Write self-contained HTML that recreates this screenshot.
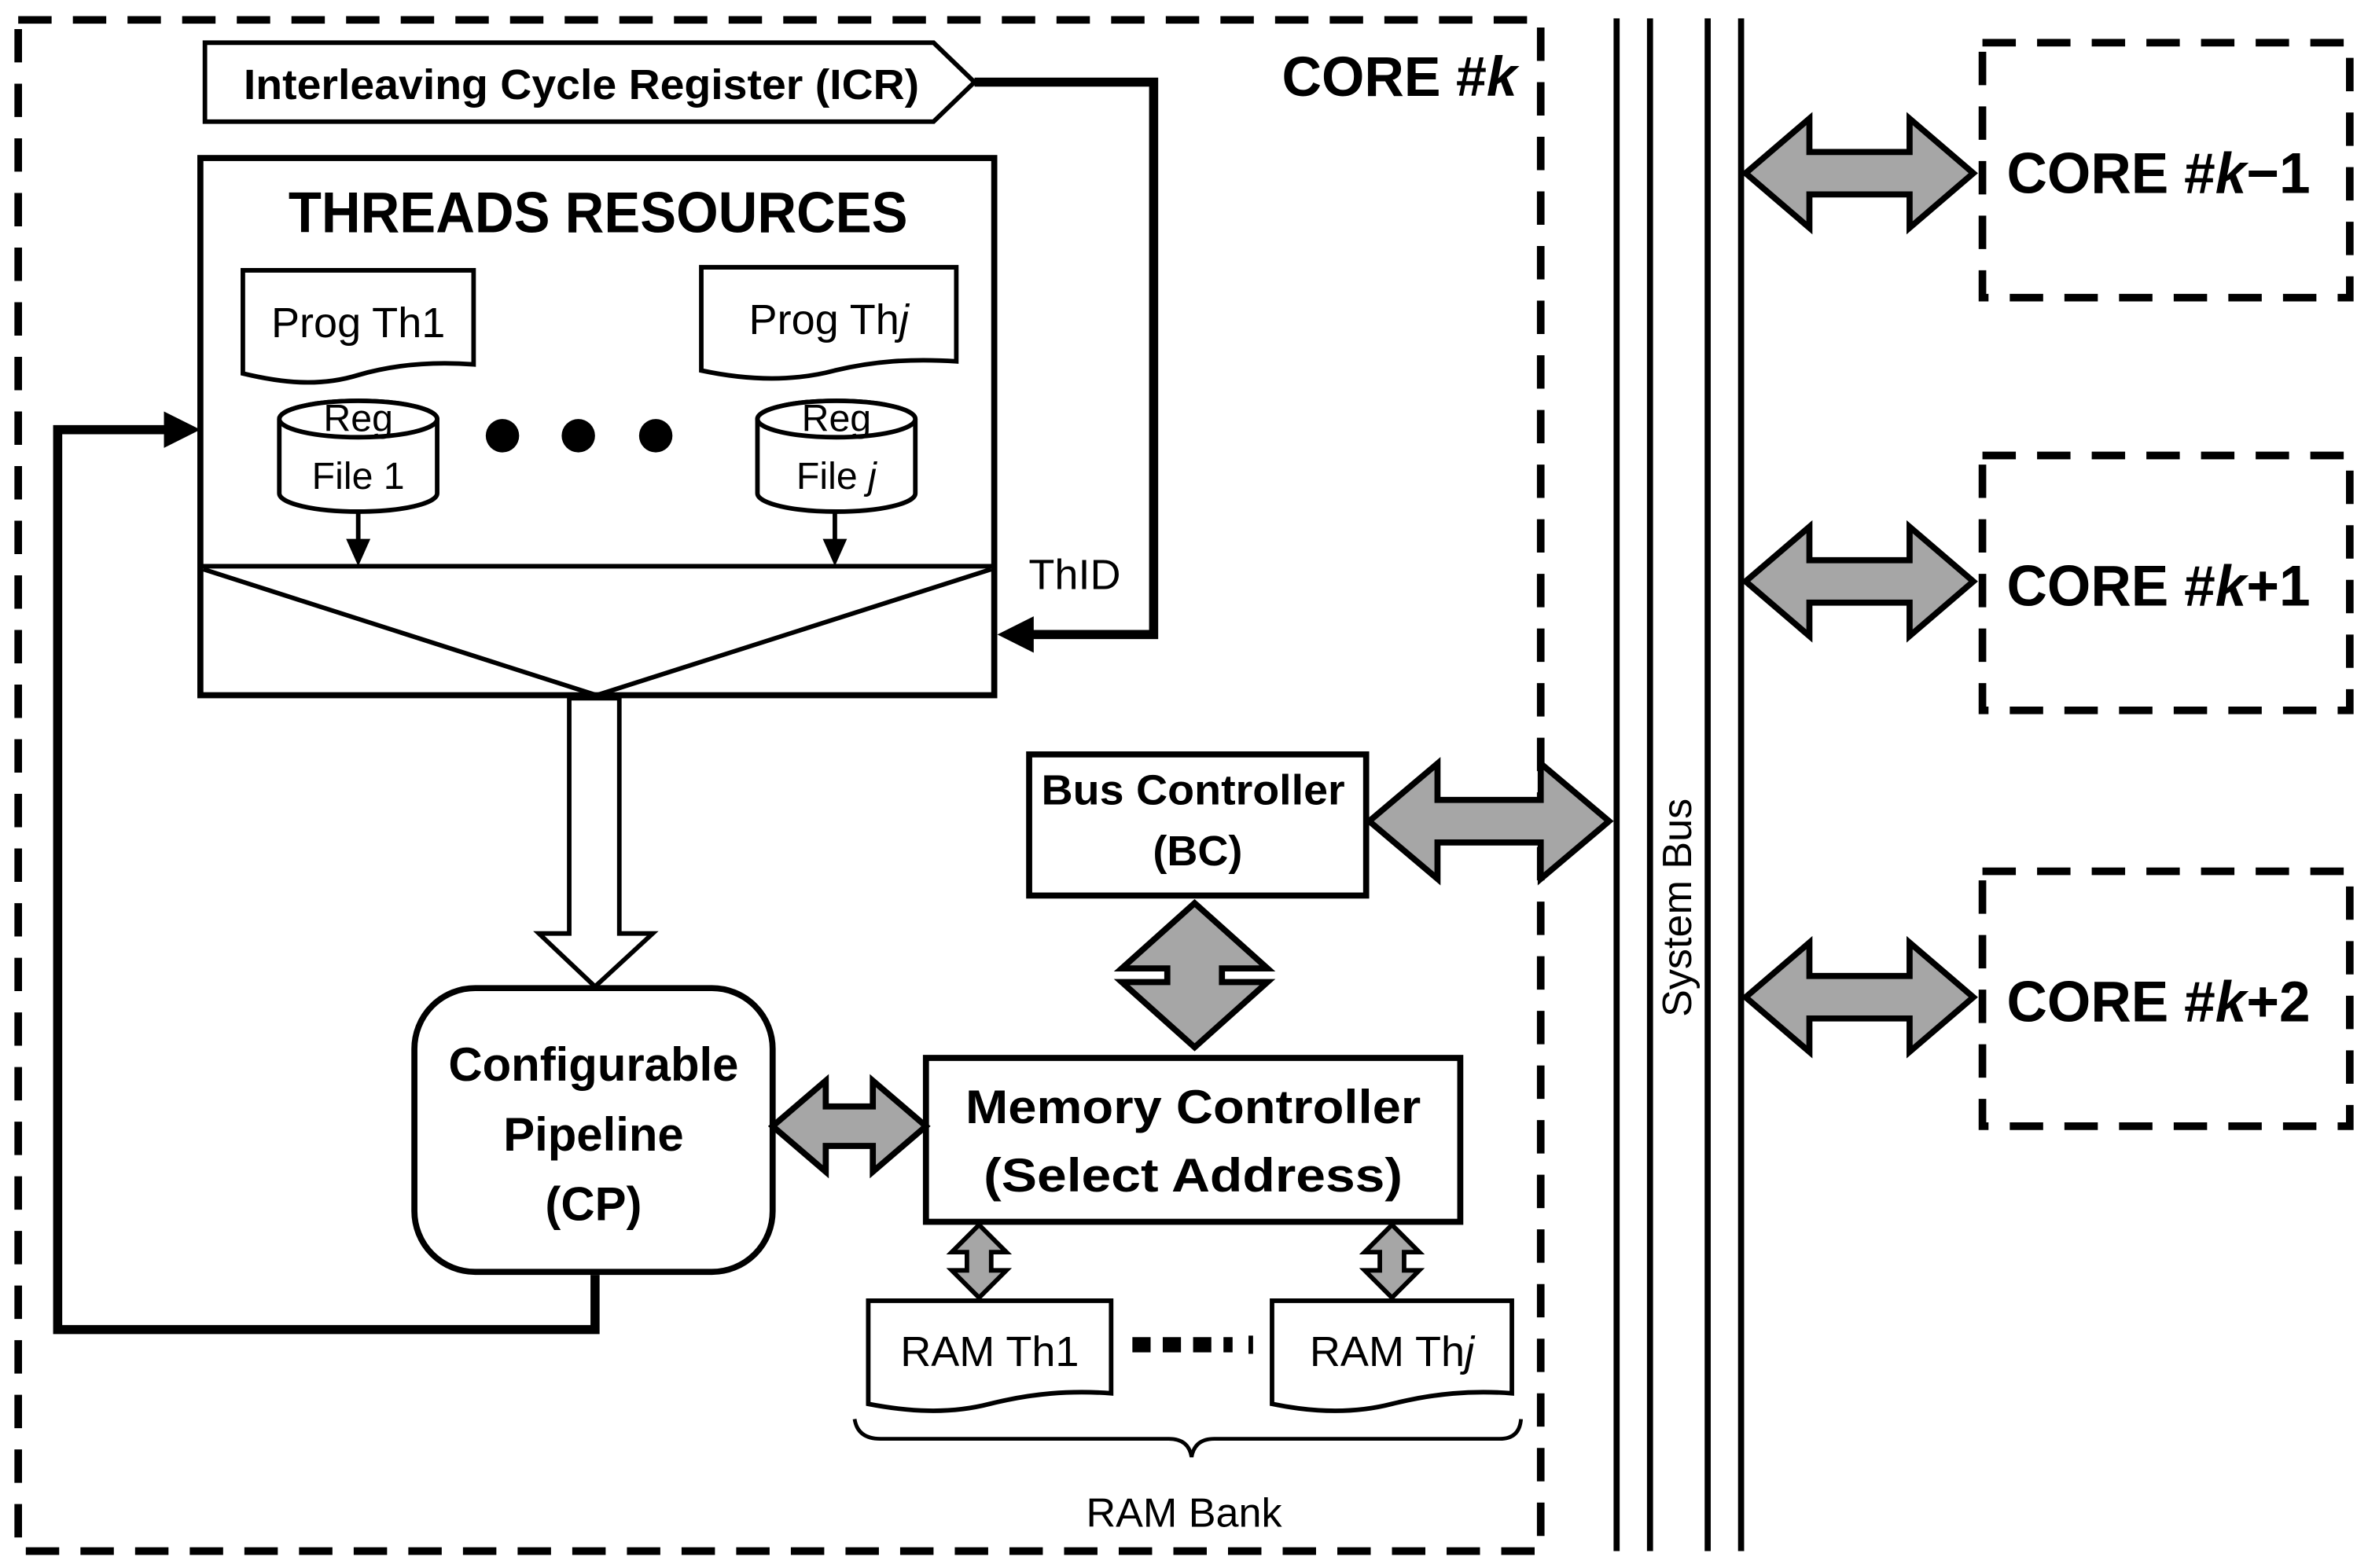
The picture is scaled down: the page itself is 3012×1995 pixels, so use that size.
<!DOCTYPE html>
<html><head><meta charset="utf-8"><style>
html,body{margin:0;padding:0;background:#fff;}
svg{display:block;}
text{font-family:"Liberation Sans",sans-serif;fill:#000;}
</style></head><body>
<svg width="3012" height="1995" viewBox="0 0 1560 1033" xmlns="http://www.w3.org/2000/svg">
<defs>
<g id="rarr"><polygon points="1150,0 1192,-36 1192,-14 1258,-14 1258,-36 1300,0 1258,36 1258,14 1192,14 1192,36" fill="#a6a6a6" stroke="#000" stroke-width="4" stroke-linejoin="miter"/></g>
</defs>

<rect x="12" y="13" width="1003" height="1009" fill="none" stroke="#000" stroke-width="5" stroke-dasharray="22,14"/>
<text x="922" y="63" font-size="37" font-weight="bold" text-anchor="middle" textLength="155" lengthAdjust="spacingAndGlyphs">CORE #<tspan font-style="italic">k</tspan></text>

<g stroke="#000" stroke-width="4">
<line x1="1065" y1="12" x2="1065" y2="1022"/><line x1="1087" y1="12" x2="1087" y2="1022"/>
<line x1="1125" y1="12" x2="1125" y2="1022"/><line x1="1147" y1="12" x2="1147" y2="1022"/>
</g>
<text transform="translate(1114,598) rotate(-90)" font-size="27" text-anchor="middle">System Bus</text>

<g fill="none" stroke="#000" stroke-width="5" stroke-dasharray="22,14">
<rect x="1306" y="28" width="242" height="168"/>
<rect x="1306" y="300" width="242" height="168"/>
<rect x="1306" y="574" width="242" height="168"/>
</g>
<g font-size="38" font-weight="bold" text-anchor="middle">
<text x="1422" y="127" textLength="200" lengthAdjust="spacingAndGlyphs">CORE #<tspan font-style="italic">k</tspan>−1</text>
<text x="1422" y="399" textLength="200" lengthAdjust="spacingAndGlyphs">CORE #<tspan font-style="italic">k</tspan>+1</text>
<text x="1422" y="673" textLength="200" lengthAdjust="spacingAndGlyphs">CORE #<tspan font-style="italic">k</tspan>+2</text>
</g>
<use href="#rarr" transform="translate(0,114)"/>
<use href="#rarr" transform="translate(0,383)"/>
<use href="#rarr" transform="translate(0,657)"/>

<polygon points="135,28 615,28 642,54 615,80 135,80" fill="#fff" stroke="#000" stroke-width="3"/>
<text x="383" y="65" font-size="28" font-weight="bold" text-anchor="middle" textLength="445" lengthAdjust="spacingAndGlyphs">Interleaving Cycle Register (ICR)</text>
<polyline points="642,54 760,54 760,418 678,418" fill="none" stroke="#000" stroke-width="6"/>
<polygon points="657,418 681,406 681,430" fill="#000"/>
<text x="708" y="388" font-size="28" text-anchor="middle">ThID</text>

<rect x="132" y="104" width="523" height="354" fill="none" stroke="#000" stroke-width="4"/>
<text x="394" y="153" font-size="38" font-weight="bold" text-anchor="middle" textLength="408" lengthAdjust="spacingAndGlyphs">THREADS RESOURCES</text>
<path d="M160,178 H312 V240 C285,238 260,240 236,247 C210,255 185,252 160,246 Z" fill="#fff" stroke="#000" stroke-width="3"/>
<text x="236" y="222" font-size="28" text-anchor="middle">Prog Th1</text>
<path d="M462,176 H630 V238 C600,236 575,238 550,244 C520,252 490,250 462,244 Z" fill="#fff" stroke="#000" stroke-width="3"/>
<text x="546" y="220" font-size="28" text-anchor="middle">Prog Th<tspan font-style="italic">j</tspan></text>

<g fill="#fff" stroke="#000" stroke-width="3">
<path d="M184,276 V325 A52,12 0 0 0 288,325 V276 A52,12 0 0 0 184,276 Z"/>
<ellipse cx="236" cy="276" rx="52" ry="12"/>
<path d="M499,276 V325 A52,12 0 0 0 603,325 V276 A52,12 0 0 0 499,276 Z"/>
<ellipse cx="551" cy="276" rx="52" ry="12"/>
</g>
<g font-size="25" text-anchor="middle">
<text x="236" y="284">Reg</text><text x="236" y="322">File 1</text>
<text x="551" y="284">Reg</text><text x="551" y="322">File <tspan font-style="italic">j</tspan></text>
</g>
<circle cx="331" cy="287" r="11"/><circle cx="381" cy="287" r="11"/><circle cx="432" cy="287" r="11"/>
<line x1="236" y1="337" x2="236" y2="358" stroke="#000" stroke-width="3"/>
<polygon points="228,355 244,355 236,373" fill="#000"/>
<line x1="550" y1="337" x2="550" y2="358" stroke="#000" stroke-width="3"/>
<polygon points="542,355 558,355 550,373" fill="#000"/>
<line x1="132" y1="373" x2="655" y2="373" stroke="#000" stroke-width="3"/>
<polyline points="134,375 393,458 653,375" fill="none" stroke="#000" stroke-width="3"/>

<polygon points="375,460 408,460 408,615 430,615 392,650 355,615 375,615" fill="#fff" stroke="#000" stroke-width="3"/>

<polyline points="392,840 392,876 38,876 38,283 112,283" fill="none" stroke="#000" stroke-width="6"/>
<polygon points="132,283 108,271 108,295" fill="#000"/>

<rect x="273" y="651" width="236" height="187" rx="40" fill="#fff" stroke="#000" stroke-width="4"/>
<g font-size="31" font-weight="bold" text-anchor="middle">
<text x="391" y="712">Configurable</text><text x="391" y="758">Pipeline</text><text x="391" y="804">(CP)</text>
</g>

<rect x="678" y="497" width="222" height="93" fill="#fff" stroke="#000" stroke-width="4"/>
<g font-size="28" font-weight="bold" text-anchor="middle">
<text x="786" y="530" textLength="200" lengthAdjust="spacingAndGlyphs">Bus Controller</text><text x="789" y="570">(BC)</text>
</g>

<rect x="610" y="697" width="352" height="108" fill="#fff" stroke="#000" stroke-width="4"/>
<g font-size="31" font-weight="bold" text-anchor="middle">
<text x="786" y="740" textLength="300" lengthAdjust="spacingAndGlyphs">Memory Controller</text>
<text x="786" y="785" textLength="276" lengthAdjust="spacingAndGlyphs">(Select Address)</text>
</g>

<g fill="#a6a6a6" stroke="#000" stroke-width="4">
<polygon points="509,742 544,712 544,729 575,729 575,712 610,742 575,772 575,755 544,755 544,772"/>
<polygon points="902,541 947,503 947,527 1015,527 1015,503 1060,541 1015,579 1015,555 947,555 947,579"/>
<polygon points="787,595 835,638 805,638 805,647 835,647 787,690 739,647 769,647 769,638 739,638"/>
<polygon points="645,807 663,825 653,825 653,837 663,837 645,855 627,837 637,837 637,825 627,825" stroke-width="3"/>
<polygon points="917,807 935,825 925,825 925,837 935,837 917,855 899,837 909,837 909,825 899,825" stroke-width="3"/>
</g>

<path d="M572,857 H732 V918 C705,916 680,918 652,925 C625,932 598,930 572,925 Z" fill="#fff" stroke="#000" stroke-width="3"/>
<text x="652" y="900" font-size="28" text-anchor="middle">RAM Th1</text>
<path d="M838,857 H996 V918 C970,916 945,918 917,925 C890,932 862,930 838,925 Z" fill="#fff" stroke="#000" stroke-width="3"/>
<text x="917" y="900" font-size="28" text-anchor="middle">RAM Th<tspan font-style="italic">j</tspan></text>
<line x1="746" y1="886" x2="812" y2="886" stroke="#000" stroke-width="10" stroke-dasharray="12,8"/>
<line x1="824" y1="880" x2="824" y2="892" stroke="#000" stroke-width="3"/>

<path d="M563,935 Q565,948 580,948 H770 Q783,948 785,960 Q787,948 800,948 H988 Q1001,948 1002,935" fill="none" stroke="#000" stroke-width="2.5"/>
<text x="780" y="1006" font-size="27" text-anchor="middle">RAM Bank</text>
</svg>
</body></html>
